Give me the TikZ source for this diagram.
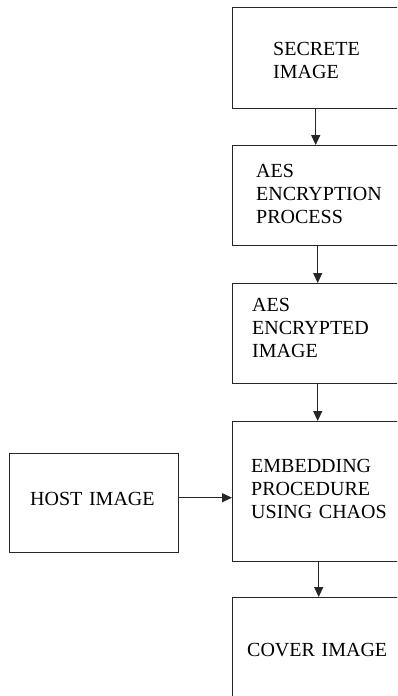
\documentclass[tikz,border=0pt]{standalone}
\usepackage{fontspec}
\setmainfont{Liberation Serif}
\usetikzlibrary{arrows.meta}
\begin{document}
\begin{tikzpicture}[x=1pt,y=-1pt,
  box/.style={draw=black!85, line width=1.4pt, rectangle, inner sep=0pt, anchor=north west},
  lbl/.style={inner sep=0pt, anchor=base west, align=left, text width=160pt, font=\fontsize{20}{23}\selectfont},
  arr/.style={draw=black!85, line width=1.2pt, -{Triangle[width=9pt,length=10pt]}}]
\useasboundingbox (0,0) rectangle (397,696);
\clip (0,0) rectangle (397,696);
\fill[white] (0,0) rectangle (397,696);
% boxes
\node[box, minimum width=178pt, minimum height=101pt] (b1) at (232,7) {};
\node[box, minimum width=178pt, minimum height=100pt] (b2) at (232,145) {};
\node[box, minimum width=178pt, minimum height=100pt] (b3) at (232,283) {};
\node[box, minimum width=178pt, minimum height=140pt] (b4) at (232,421) {};
\node[box, minimum width=178pt, minimum height=130pt] (b5) at (232,597) {};
\node[box, minimum width=169pt, minimum height=99pt] (host) at (9,453) {};
% texts
\node[lbl] (t1) at (273,55) {SECRETE\\IMAGE};
\node[lbl] (t2) at (256,177) {AES\\ENCRYPTION\\PROCESS};
\node[lbl] (t3) at (252,311) {AES\\ENCRYPTED\\IMAGE};
\node[lbl] (t4) at (251,472) {EMBEDDING\\PROCEDURE\\USING CHAOS};
\node[lbl] (t5) at (247,656) {COVER IMAGE};
\node[lbl] (th) at (30,505) {HOST IMAGE};
% arrows
\draw[arr] ([xshift=-6pt]b1.south) -- ([xshift=-6pt]b2.north);
\draw[arr] ([xshift=-4pt]b2.south) -- ([xshift=-4pt]b3.north);
\draw[arr] ([xshift=-4pt]b3.south) -- ([xshift=-4pt]b4.north);
\draw[arr] ([xshift=-3pt]b4.south) -- ([xshift=-3pt]b5.north);
\draw[arr] ([yshift=5.5pt]host.east) -- ([yshift=5.5pt]host.east -| b4.west);
\end{tikzpicture}
\end{document}
